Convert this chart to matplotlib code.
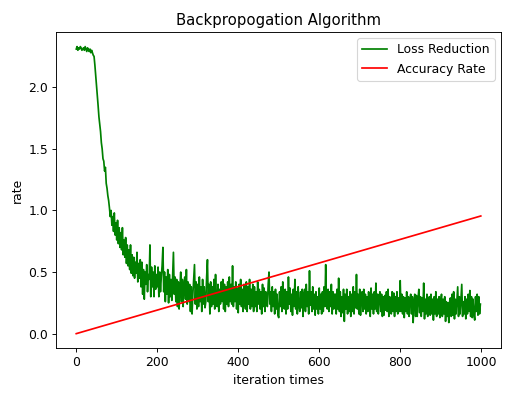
import numpy as np
import matplotlib
matplotlib.use("Agg")
import matplotlib.pyplot as plt

loss_step = 2
loss_values = [
    2.31, 2.33, 2.30, 2.32, 2.31, 2.33, 2.32, 2.30, 2.31, 2.32, 2.30, 2.33, 2.31, 2.29, 2.32, 2.30, 2.29, 2.31, 2.28, 2.30,
    2.28, 2.26, 2.25, 2.18, 2.10, 2.02, 1.95, 1.85, 1.76, 1.70, 1.64, 1.55, 1.50, 1.42, 1.40, 1.32, 1.35, 1.22, 1.18, 1.12,
    1.08, 1.02, 0.95, 1.00, 0.88, 0.95, 0.83, 0.98, 0.80, 0.90, 0.76, 0.92, 0.73, 0.86, 0.70, 0.82, 0.68, 0.86, 0.64, 0.76,
    0.62, 0.78, 0.57, 0.72, 0.55, 0.68, 0.52, 0.72, 0.49, 0.64, 0.47, 0.62, 0.45, 0.58, 0.49, 0.66, 0.42, 0.57, 0.45, 0.60,
    0.38, 0.58, 0.32, 0.52, 0.28, 0.50, 0.40, 0.56, 0.34, 0.48, 0.44, 0.72, 0.30, 0.54, 0.38, 0.50, 0.30, 0.55, 0.36, 0.48,
    0.38, 0.54, 0.30, 0.50, 0.34, 0.46, 0.55, 0.70, 0.34, 0.50, 0.26, 0.46, 0.32, 0.52, 0.25, 0.48, 0.30, 0.44, 0.27, 0.46,
    0.66, 0.32, 0.46, 0.26, 0.44, 0.22, 0.42, 0.20, 0.38, 0.50, 0.26, 0.44, 0.22, 0.40, 0.46, 0.28, 0.52, 0.24, 0.42, 0.26,
    0.40, 0.18, 0.38, 0.16, 0.32, 0.44, 0.56, 0.24, 0.42, 0.20, 0.40, 0.22, 0.46, 0.26, 0.38, 0.18, 0.44, 0.24, 0.38, 0.21,
    0.26, 0.46, 0.60, 0.26, 0.40, 0.16, 0.42, 0.22, 0.38, 0.24, 0.44, 0.20, 0.48, 0.26, 0.22, 0.40, 0.18, 0.36, 0.24, 0.42,
    0.26, 0.44, 0.20, 0.40, 0.18, 0.38, 0.24, 0.42, 0.22, 0.46, 0.26, 0.40, 0.24, 0.55, 0.22, 0.38, 0.26, 0.42, 0.20, 0.37,
    0.17, 0.40, 0.24, 0.44, 0.22, 0.36, 0.18, 0.40, 0.26, 0.20, 0.42, 0.18, 0.38, 0.24, 0.44, 0.20, 0.36, 0.22, 0.40, 0.18,
    0.38, 0.22, 0.34, 0.18, 0.42, 0.24, 0.36, 0.20, 0.34, 0.16, 0.40, 0.22, 0.37, 0.18, 0.34, 0.24, 0.22, 0.40, 0.50, 0.24,
    0.34, 0.18, 0.38, 0.22, 0.34, 0.16, 0.36, 0.20, 0.32, 0.15, 0.13, 0.34, 0.22, 0.38, 0.18, 0.42, 0.24, 0.20, 0.36, 0.16,
    0.34, 0.20, 0.46, 0.24, 0.37, 0.18, 0.32, 0.15, 0.36, 0.22, 0.44, 0.20, 0.34, 0.16, 0.38, 0.22, 0.18, 0.34, 0.21, 0.36,
    0.14, 0.32, 0.36, 0.18, 0.40, 0.22, 0.34, 0.16, 0.51, 0.23, 0.34, 0.18, 0.38, 0.20, 0.32, 0.15, 0.34, 0.20, 0.30, 0.16,
    0.37, 0.20, 0.32, 0.16, 0.34, 0.18, 0.38, 0.22, 0.56, 0.24, 0.20, 0.36, 0.18, 0.34, 0.22, 0.40, 0.16, 0.34, 0.20, 0.32,
    0.32, 0.16, 0.36, 0.20, 0.45, 0.18, 0.34, 0.14, 0.30, 0.17, 0.36, 0.10, 0.32, 0.20, 0.36, 0.16, 0.30, 0.18, 0.34, 0.14,
    0.32, 0.18, 0.38, 0.16, 0.34, 0.21, 0.48, 0.20, 0.32, 0.16, 0.36, 0.15, 0.30, 0.34, 0.18, 0.36, 0.20, 0.32, 0.16, 0.30,
    0.18, 0.34, 0.22, 0.14, 0.37, 0.20, 0.32, 0.16, 0.34, 0.20, 0.41, 0.18, 0.32, 0.16, 0.30, 0.34, 0.18, 0.32, 0.14, 0.30,
    0.15, 0.31, 0.19, 0.34, 0.18, 0.36, 0.14, 0.30, 0.20, 0.16, 0.34, 0.18, 0.33, 0.14, 0.30, 0.18, 0.34, 0.16, 0.29, 0.18,
    0.43, 0.18, 0.32, 0.16, 0.30, 0.13, 0.29, 0.18, 0.34, 0.16, 0.30, 0.14, 0.28, 0.32, 0.16, 0.30, 0.09, 0.26, 0.32, 0.14,
    0.31, 0.14, 0.28, 0.36, 0.17, 0.30, 0.14, 0.29, 0.18, 0.41, 0.12, 0.28, 0.16, 0.32, 0.14, 0.27, 0.30, 0.15, 0.32, 0.16,
    0.28, 0.11, 0.30, 0.16, 0.34, 0.14, 0.28, 0.16, 0.30, 0.13, 0.26, 0.32, 0.14, 0.28, 0.16, 0.30, 0.10, 0.26, 0.14, 0.25,
    0.09, 0.26, 0.29, 0.14, 0.32, 0.15, 0.34, 0.12, 0.28, 0.16, 0.27, 0.38, 0.14, 0.30, 0.16, 0.28, 0.40, 0.14, 0.26, 0.16,
    0.30, 0.12, 0.28, 0.16, 0.32, 0.18, 0.35, 0.14, 0.30, 0.13, 0.28, 0.16, 0.11, 0.30, 0.18, 0.32, 0.15, 0.30, 0.16, 0.24,
]
loss_iters = np.arange(len(loss_values)) * loss_step

acc_iters = [0, 999]
acc_values = [0.0, 0.955]

plt.rcParams["font.size"] = 10.9
plt.rcParams["axes.titlesize"] = 13.1

fig = plt.figure(figsize=(526 / 82, 393 / 82), dpi=82)
ax = fig.add_axes([0.1065, 0.1145, 0.846, 0.8035])
ax.plot(loss_iters, loss_values, color="green", label="Loss Reduction")
ax.plot(acc_iters, acc_values, color="red", label="Accuracy Rate")
ax.set_title("Backpropogation Algorithm")
ax.set_xlabel("iteration times")
ax.set_ylabel("rate")
ax.legend(loc="upper right")
fig.savefig("out.png", dpi=82)
